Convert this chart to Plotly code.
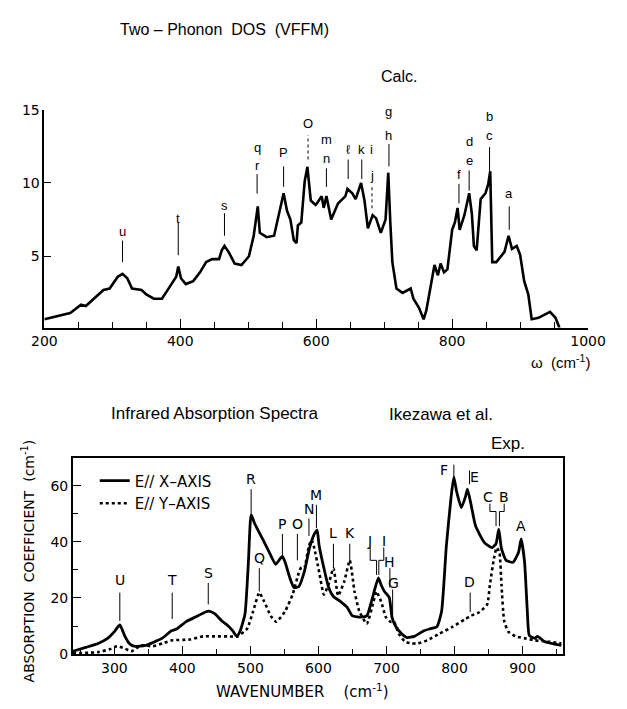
import plotly.graph_objects as go

# ---------------- data: upper panel (two-phonon DOS, calc.) ----------------
dos_wavenumber = [200, 238, 254, 261, 287, 296, 308, 315, 322, 329,
                  343, 350, 361, 373, 387, 394, 397, 401, 408, 419,
                  429, 438, 447, 457, 461, 465, 471, 480, 490, 501,
                  508, 514, 517, 527, 538, 548, 552, 557, 562, 567,
                  571, 573, 578, 583, 587, 592, 599, 601, 608, 611,
                  615, 622, 632, 643, 646, 653, 658, 666, 671, 676,
                  683, 688, 695, 702, 706, 709, 712, 718, 727, 739,
                  743, 751, 758, 762, 769, 774, 779, 783, 788, 793,
                  800, 804, 808, 811, 818, 825, 829, 832, 836, 842,
                  849, 853, 856, 859, 865, 877, 883, 888, 895, 900,
                  906, 912, 917, 927, 944, 952, 958]
dos_value = [0.7, 1.13, 1.7, 1.6, 2.7, 2.8, 3.6, 3.8, 3.5, 2.8,
             2.7, 2.4, 2.1, 2.1, 3.1, 3.6, 4.3, 3.5, 3.1, 3.3,
             3.9, 4.6, 4.8, 4.8, 5.4, 5.7, 5.3, 4.5, 4.4, 5.0,
             6.4, 8.4, 6.6, 6.3, 6.4, 8.4, 9.3, 8.1, 7.5, 6.1,
             5.9, 7.1, 7.3, 10.1, 11.1, 8.8, 8.5, 8.6, 9.1, 8.3,
             9.1, 7.5, 8.6, 9.1, 9.6, 9.3, 8.9, 10.0, 8.8, 6.9,
             7.8, 7.6, 6.6, 7.5, 10.7, 7.3, 4.6, 2.8, 2.5, 2.8,
             2.1, 1.5, 0.7, 1.3, 3.1, 4.4, 3.7, 4.5, 3.9, 4.1,
             6.8, 7.3, 8.3, 6.8, 7.8, 9.3, 7.9, 5.7, 5.4, 8.9,
             9.3, 9.9, 10.8, 4.6, 4.6, 5.3, 6.4, 5.5, 5.7, 5.1,
             3.3, 2.4, 0.7, 0.8, 1.2, 0.8, 0.1]

top_x_ticks = [200, 400, 600, 800, 1000]
top_y_ticks = [5, 10, 15]

# peak labels of upper panel
top_lbl_text = ["u", "t", "s", "q", "r", "P", "O", "m", "n", "ℓ", "k", "i", "j",
                "g", "h", "f", "d", "e", "b", "c", "a"]
top_lbl_x = [315, 397, 465, 513, 513, 552, 588, 615, 615, 647, 667, 682, 682,
             707, 707, 810, 825, 825, 855, 855, 884]
top_lbl_y = [6.67, 7.6, 8.47, 12.45, 11.2, 12.07, 14.07, 12.95, 11.7, 12.27, 12.27, 12.3, 10.5,
             14.85, 13.25, 10.6, 12.85, 11.5, 14.55, 13.25, 9.27]
top_mark_x = [315, 397, 465, 513, 552, 588, 615, 647, 667, 682, 707, 810, 825, 855, 884]
top_mark_lo = [4.6, 5.07, 6.4, 9.27, 9.73, 11.6, 9.73, 10.27, 10.27, 8.27, 11.13, 8.6, 9.47, 10.8, 6.8]
top_mark_hi = [6.07, 7.27, 7.93, 10.6, 11.13, 13.27, 11.0, 11.6, 11.6, 9.8, 12.65, 9.93, 10.85, 12.45, 8.4]

# ---------------- data: lower panel (IR absorption, exp.) ----------------
ex_wavenumber = [239, 258, 276, 290, 300, 308, 315, 322, 329, 346,
                 360, 370, 384, 392, 405, 419, 434, 439, 448, 458,
                 467, 474, 480, 485, 492, 497, 501, 506, 518, 530,
                 537, 544, 547, 551, 558, 564, 571, 579, 587, 594,
                 598, 601, 608, 615, 622, 632, 642, 650, 663, 671,
                 678, 688, 692, 697, 704, 708, 713, 722, 730, 741,
                 755, 764, 774, 781, 788, 795, 799, 803, 810, 816,
                 819, 824, 831, 844, 855, 861, 865, 869, 876, 886,
                 894, 898, 903, 907, 910, 918, 922, 932, 957]
ex_absorption = [1.0, 2.4, 3.8, 5.6, 8.0, 10.4, 6.6, 3.8, 2.8, 3.1,
                 4.5, 5.6, 8.3, 9.0, 11.5, 13.2, 15.0, 15.3, 14.3, 11.8,
                 10.1, 8.3, 6.3, 8.3, 14.3, 32.7, 49.7, 46.6, 41.0, 35.1,
                 32.0, 34.1, 34.8, 32.7, 27.1, 23.7, 24.0, 29.2, 37.9, 42.8,
                 44.2, 38.6, 30.6, 23.7, 20.5, 18.8, 16.7, 13.6, 13.2, 13.6,
                 18.8, 27.1, 24.7, 22.3, 20.2, 13.2, 10.1, 7.3, 5.9, 6.3,
                 8.3, 9.0, 9.7, 15.3, 38.6, 56, 63, 58, 52.2, 56,
                 58.8, 53.6, 45.6, 39.7, 37.9, 39.3, 44.5, 37.6, 33.4, 32.7,
                 36.2, 41.0, 32.7, 15.3, 6.6, 5.6, 6.3, 4.5, 3.1]

ey_wavenumber = [239, 276, 293, 304, 314, 325, 339, 356, 371, 385,
                 411, 430, 448, 467, 481, 495, 504, 513, 520, 530,
                 538, 551, 562, 571, 575, 579, 586, 590, 594, 601,
                 608, 615, 622, 629, 638, 646, 653, 660, 671, 681,
                 685, 692, 699, 706, 711, 718, 727, 737, 746, 760,
                 778, 797, 816, 824, 837, 848, 852, 858, 862, 866,
                 869, 873, 879, 890, 904, 918, 936, 957]
ey_absorption = [0.3, 0.7, 1.7, 2.8, 2.1, 1.0, 3.1, 2.8, 3.8, 4.9,
                 5.2, 6.3, 6.3, 6.3, 6.3, 9.0, 15.3, 21.9, 18.8, 13.6,
                 11.5, 15.3, 21.2, 28.9, 31.0, 30.6, 38.6, 40.7, 37.6, 29.2,
                 21.2, 25.0, 30.6, 20.8, 26.0, 33.4, 22.3, 15.3, 10.8, 18.8,
                 22.3, 18.8, 13.2, 11.5, 11.5, 7.3, 4.5, 3.8, 3.8, 4.9,
                 7.3, 9.7, 12.5, 13.6, 15.0, 17.7, 24.7, 34.1, 37.9, 36.2,
                 24.7, 11.8, 8.0, 6.3, 5.6, 4.9, 4.5, 3.8]

bot_x_ticks = [300, 400, 500, 600, 700, 800, 900]
bot_y_ticks = [0, 20, 40, 60]

bot_lbl_text = ["U", "T", "S", "R", "Q", "P", "O", "N", "M", "L", "K", "J", "I",
                "H", "G", "F", "E", "D", "C", "B", "A"]
bot_lbl_x = [308, 385, 438, 501, 513, 547, 569, 586, 597, 622, 646, 675, 696,
             704, 711, 785, 829, 822, 849, 873, 898]
bot_lbl_y = [26.4, 26.4, 28.9, 62.3, 34.1, 46.3, 46.3, 51.8, 56.7, 43.1, 43.1, 40.3, 40.3,
             32.7, 25.4, 65.7, 63.0, 25.7, 56.0, 56.0, 45.6]
bot_mark_x = [308, 385, 438, 501, 513, 547, 569, 586, 597, 622, 646, 705, 709, 799, 822, 823]
bot_mark_lo = [11.8, 12.5, 17.7, 50.1, 22.3, 35.1, 33.4, 42.1, 44.9, 30.6, 32.7, 23.7, 13.2, 63.0, 60.5, 15.0]
bot_mark_hi = [21.9, 21.9, 25.4, 58.8, 30.6, 42.8, 42.8, 48.3, 53.2, 39.3, 39.3, 30.6, 23.0, 67.5, 65.4, 21.9]
# brackets joining paired labels (J/I and C/B)
brk_outer_l = [676, 852]
brk_outer_r = [696, 873]
brk_inner_l = [685.4, 861]
brk_inner_r = [688.7, 866]
brk_top = [38.0, 53.6]
brk_joint = [33.4, 50.8]
brk_bottom = [28.2, 45.6]

# ---------------- figure ----------------
W, H = 627, 709
TXT = "Liberation Sans"
TICKF = "DejaVu Sans"


def px(x):
    return x / W


def py(y):
    return 1 - y / H


fig = go.Figure()
fig.add_trace(go.Scatter(x=dos_wavenumber, y=dos_value, mode="lines",
                         line=dict(color="black", width=2.6),
                         xaxis="x", yaxis="y", showlegend=False))
fig.add_trace(go.Scatter(x=ex_wavenumber, y=ex_absorption, mode="lines",
                         line=dict(color="black", width=2.8, shape="spline", smoothing=0.5),
                         xaxis="x2", yaxis="y2", name="E// X–AXIS"))
fig.add_trace(go.Scatter(x=ey_wavenumber, y=ey_absorption, mode="lines",
                         line=dict(color="black", width=2.6, dash="dot", shape="spline", smoothing=0.5),
                         xaxis="x2", yaxis="y2", name="E// Y–AXIS"))

axis_common = dict(showgrid=False, zeroline=False, showline=True, linecolor="black",
                   linewidth=1.6, ticks="inside", tickcolor="black", tickwidth=1.3,
                   tickfont=dict(family=TICKF, size=14, color="black"))

fig.update_layout(
    width=W, height=H, margin=dict(l=0, r=0, t=0, b=0),
    paper_bgcolor="white", plot_bgcolor="white",
    xaxis=dict(domain=[px(33), px(605)], range=[200, 1000], anchor="y",
               tickvals=top_x_ticks, ticklen=9,
               minor=dict(dtick=50, tick0=200, ticks="inside", ticklen=6, tickcolor="black", tickwidth=1.2),
               **axis_common),
    yaxis=dict(domain=[py(327), py(104)], range=[0.13, 15], anchor="x",
               tickvals=top_y_ticks, ticklen=7, **axis_common),
    xaxis2=dict(domain=[px(63), px(579)], range=[239, 960], anchor="y2",
                tickvals=bot_x_ticks, ticklen=8, mirror=True,
                minor=dict(dtick=50, tick0=300, ticks="inside", ticklen=5, tickcolor="black", tickwidth=1.2),
                **axis_common),
    yaxis2=dict(domain=[py(661), py(460)], range=[0, 70], anchor="x2",
                tickvals=bot_y_ticks, ticklen=8, mirror=True,
                minor=dict(dtick=10, ticks="inside", ticklen=5, tickcolor="black", tickwidth=1.2),
                **axis_common),
    legend=dict(x=px(86), y=py(467), xanchor="left", yanchor="top",
                bgcolor="rgba(0,0,0,0)", font=dict(family=TICKF, size=15, color="black"),
                tracegroupgap=0, itemwidth=30),
    showlegend=True,
)

ann = []
# upper panel peak labels
for t, x, y in zip(top_lbl_text, top_lbl_x, top_lbl_y):
    ann.append(dict(text=t, x=x, y=y, xref="x", yref="y", showarrow=False,
                    font=dict(family=TXT, size=13, color="black")))
for x, y0, y1 in zip(top_mark_x, top_mark_lo, top_mark_hi):
    dashed = x in (588, 682)
    fig.add_shape(type="line", xref="x", yref="y", x0=x, x1=x, y0=y0, y1=y1,
                  line=dict(color="black", width=1, dash="dot" if dashed else "solid"))
# lower panel peak labels
for t, x, y in zip(bot_lbl_text, bot_lbl_x, bot_lbl_y):
    ann.append(dict(text=t, x=x, y=y, xref="x2", yref="y2", showarrow=False,
                    font=dict(family=TICKF, size=14, color="black")))
for x, y0, y1 in zip(bot_mark_x, bot_mark_lo, bot_mark_hi):
    fig.add_shape(type="line", xref="x2", yref="y2", x0=x, x1=x, y0=y0, y1=y1,
                  line=dict(color="black", width=1))
for ol, orr, il, ir, yt, yj, yb in zip(brk_outer_l, brk_outer_r, brk_inner_l, brk_inner_r,
                                       brk_top, brk_joint, brk_bottom):
    path = (f"M {ol},{yt} L {ol},{yj} L {il},{yj} L {il},{yb} "
            f"M {orr},{yt} L {orr},{yj} L {ir},{yj} L {ir},{yb}")
    fig.add_shape(type="path", path=path, xref="x2", yref="y2",
                  line=dict(color="black", width=1))


# titles and axis labels
def ptext(t, x, y, size, family=TXT, **kw):
    d = dict(text=t, x=px(x), y=py(y), xref="paper", yref="paper", showarrow=False,
             xanchor="center", yanchor="middle", font=dict(family=family, size=size, color="black"))
    d.update(kw)
    ann.append(d)


ptext("Two – Phonon  DOS  (VFFM)", 222, 22, 16)
ptext("Calc.", 406, 70, 16)
ptext("ω  (cm<sup>-1</sup>)", 576, 362, 15)
ptext("Infrared Absorption Spectra", 213, 415, 17)
ptext("Ikezawa et al.", 450, 416, 17)
ptext("Exp.", 521, 446, 17)
ptext("ABSORPTION  COEFFICIENT  (cm<sup>-1</sup>)", 16, 566, 14, family=TICKF, textangle=-90)
ptext("WAVENUMBER    (cm<sup>-1</sup>)", 305, 699, 15, family=TICKF)

fig.update_layout(annotations=ann)
fig.write_html("out.html")
